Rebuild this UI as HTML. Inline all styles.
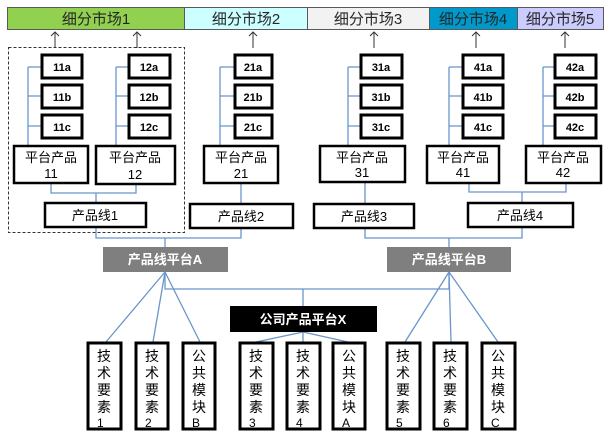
<!DOCTYPE html>
<html><head><meta charset="utf-8"><style>
html,body{margin:0;padding:0;background:#fff;}
svg{display:block;font-family:"Liberation Sans","Noto Sans CJK SC",sans-serif;}
</style></head><body>
<svg width="609" height="445" viewBox="0 0 609 445" xmlns="http://www.w3.org/2000/svg">
<!-- top bar -->
<g stroke="#595959" stroke-width="1">
<rect x="7.5" y="7.5" width="177" height="22" fill="#92d050"/>
<rect x="184.5" y="7.5" width="123" height="22" fill="#ccffff"/>
<rect x="307.5" y="7.5" width="122" height="22" fill="#f2f2f2"/>
<rect x="429.5" y="7.5" width="88" height="22" fill="#0099cc"/>
<rect x="517.5" y="7.5" width="86" height="22" fill="#ccccff"/>
</g>
<g font-size="15" fill="#262626" text-anchor="middle">
<text x="96" y="24">细分市场1</text>
<text x="246" y="24">细分市场2</text>
<text x="368" y="24">细分市场3</text>
<text x="473" y="24">细分市场4</text>
<text x="560" y="24">细分市场5</text>
</g>
<!-- arrows -->
<g stroke="#333" stroke-width="1" fill="none">
<path d="M55 48V32M51 36L55 32L59 36"/>
<path d="M137 48V32M133 36L137 32L141 36"/>
<path d="M253 48V32M249 36L253 32L257 36"/>
<path d="M374 48V32M370 36L374 32L378 36"/>
<path d="M476 48V32M472 36L476 32L480 36"/>
<path d="M565 48V32M561 36L565 32L569 36"/>
</g>
<rect x="8.5" y="47.5" width="176" height="185" fill="none" stroke="#333" stroke-dasharray="3,2"/>
<!-- blue connectors -->
<g stroke="#6a95cc" stroke-width="1.3" fill="none">
<path d="M28 67V146M28 67H42M28 96H42M28 126H42"/>
<path d="M116 67V146M116 67H129M116 96H129M116 126H129"/>
<path d="M220 67V146M220 67H235M220 96H235M220 126H235"/>
<path d="M348 67V146M348 67H361M348 96H361M348 126H361"/>
<path d="M449 67V146M449 67H463M449 96H463M449 126H463"/>
<path d="M543 67V146M543 67H555M543 96H555M543 126H555"/>
<path d="M51 183V193H136V185M96 193V203"/>
<path d="M241 183V204M365 182V204"/>
<path d="M469 183V192H566V183M522 192V203"/>
<path d="M96 227V238H241V228M165 238V247"/>
<path d="M365 228V238H522V227M449 238V247"/>
<path d="M165 272V289H449V272M303 289V306"/>
<path d="M165 272L106 342M165 272L153 342M165 272L200 342"/>
<path d="M303 332L256 342M303 332V342M303 332L348 342"/>
<path d="M449 272L405 342M449 272L451 342M449 272L498 342"/>
</g>
<!-- small boxes -->
<g fill="#fff" stroke="#000" stroke-width="3">
<rect x="42" y="55" width="40" height="23"/><rect x="42" y="85" width="40" height="23"/><rect x="42" y="115" width="40" height="23"/>
<rect x="129" y="55" width="41" height="23"/><rect x="129" y="85" width="41" height="23"/><rect x="129" y="115" width="41" height="23"/>
<rect x="235" y="55" width="37" height="23"/><rect x="235" y="85" width="37" height="23"/><rect x="235" y="115" width="37" height="23"/>
<rect x="361" y="55" width="41" height="23"/><rect x="361" y="85" width="41" height="23"/><rect x="361" y="115" width="41" height="23"/>
<rect x="463" y="55" width="40" height="23"/><rect x="463" y="85" width="40" height="23"/><rect x="463" y="115" width="40" height="23"/>
<rect x="555" y="55" width="41" height="23"/><rect x="555" y="85" width="41" height="23"/><rect x="555" y="115" width="41" height="23"/>
</g>
<g font-size="11" font-weight="bold" fill="#000" text-anchor="middle">
<text x="62" y="71">11a</text><text x="62" y="101">11b</text><text x="62" y="131">11c</text>
<text x="149" y="71">12a</text><text x="149" y="101">12b</text><text x="149" y="131">12c</text>
<text x="253" y="71">21a</text><text x="253" y="101">21b</text><text x="253" y="131">21c</text>
<text x="381" y="71">31a</text><text x="381" y="101">31b</text><text x="381" y="131">31c</text>
<text x="483" y="71">41a</text><text x="483" y="101">41b</text><text x="483" y="131">41c</text>
<text x="575" y="71">42a</text><text x="575" y="101">42b</text><text x="575" y="131">42c</text>
</g>
<!-- platform products -->
<g fill="#fff" stroke="#000" stroke-width="2.5">
<rect x="14" y="146" width="74" height="37"/>
<rect x="96" y="146" width="79" height="38"/>
<rect x="204" y="146" width="74" height="37"/>
<rect x="320" y="146" width="85" height="36"/>
<rect x="427" y="146" width="72" height="37"/>
<rect x="526" y="146" width="75" height="37"/>
<rect x="45" y="203" width="101" height="24"/>
<rect x="190" y="204" width="103" height="24"/>
<rect x="314" y="204" width="100" height="24"/>
<rect x="468" y="203" width="105" height="24"/>
</g>
<g font-size="13" fill="#000" text-anchor="middle">
<text x="51" y="162">平台产品</text><text x="51" y="178">11</text>
<text x="135" y="162">平台产品</text><text x="135" y="179">12</text>
<text x="241" y="162">平台产品</text><text x="241" y="178">21</text>
<text x="362" y="162">平台产品</text><text x="362" y="177">31</text>
<text x="463" y="162">平台产品</text><text x="463" y="177">41</text>
<text x="563" y="162">平台产品</text><text x="563" y="177">42</text>
<text x="95" y="220">产品线1</text>
<text x="241" y="221">产品线2</text>
<text x="364" y="221">产品线3</text>
<text x="520" y="220">产品线4</text>
</g>
<!-- platforms -->
<rect x="103" y="247" width="125" height="25" fill="#7f7f7f"/>
<rect x="387" y="247" width="124" height="25" fill="#7f7f7f"/>
<rect x="230" y="306" width="147" height="26" fill="#000"/>
<g font-size="13" font-weight="bold" fill="#fff" text-anchor="middle">
<text x="165" y="264">产品线平台A</text>
<text x="449" y="264">产品线平台B</text>
<text x="303" y="324">公司产品平台X</text>
</g>
<!-- bottom boxes -->
<g fill="#fff" stroke="#000" stroke-width="3">
<rect x="88" y="343" width="33" height="86"/>
<rect x="136" y="343" width="32" height="86"/>
<rect x="183" y="343" width="32" height="86"/>
<rect x="240" y="343" width="33" height="86"/>
<rect x="287" y="343" width="33" height="86"/>
<rect x="333" y="343" width="32" height="86"/>
<rect x="387" y="343" width="33" height="86"/>
<rect x="434" y="343" width="33" height="86"/>
<rect x="482" y="343" width="33" height="86"/>
</g>
<g font-size="14" fill="#000">
<text x="97" y="361">技</text><text x="97" y="378">术</text><text x="97" y="395">要</text><text x="97" y="412">素</text><text x="97" y="427" font-size="12">1</text>
<text x="145" y="361">技</text><text x="145" y="378">术</text><text x="145" y="395">要</text><text x="145" y="412">素</text><text x="145" y="427" font-size="12">2</text>
<text x="192" y="361">公</text><text x="192" y="378">共</text><text x="192" y="395">模</text><text x="192" y="412">块</text><text x="192" y="427" font-size="12">B</text>
<text x="249" y="361">技</text><text x="249" y="378">术</text><text x="249" y="395">要</text><text x="249" y="412">素</text><text x="249" y="427" font-size="12">3</text>
<text x="296" y="361">技</text><text x="296" y="378">术</text><text x="296" y="395">要</text><text x="296" y="412">素</text><text x="296" y="427" font-size="12">4</text>
<text x="342" y="361">公</text><text x="342" y="378">共</text><text x="342" y="395">模</text><text x="342" y="412">块</text><text x="342" y="427" font-size="12">A</text>
<text x="396" y="361">技</text><text x="396" y="378">术</text><text x="396" y="395">要</text><text x="396" y="412">素</text><text x="396" y="427" font-size="12">5</text>
<text x="443" y="361">技</text><text x="443" y="378">术</text><text x="443" y="395">要</text><text x="443" y="412">素</text><text x="443" y="427" font-size="12">6</text>
<text x="491" y="361">公</text><text x="491" y="378">共</text><text x="491" y="395">模</text><text x="491" y="412">块</text><text x="491" y="427" font-size="12">C</text>
</g>
</svg>
</body></html>
